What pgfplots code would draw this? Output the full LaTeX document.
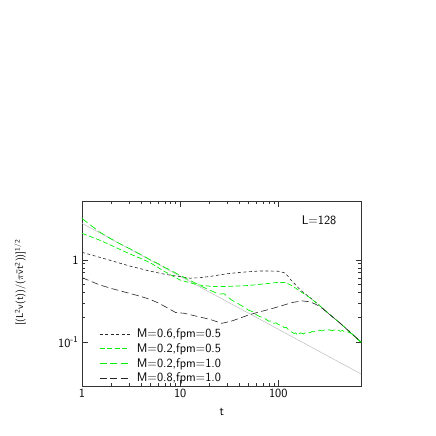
\documentclass[border=0pt]{standalone}
\usepackage{pgfplots}
\pgfplotsset{compat=1.18}
\renewcommand{\familydefault}{\sfdefault}
\definecolor{lgreen}{RGB}{0,240,0}
\begin{document}
\begin{tikzpicture}
\path[use as bounding box] (0,0) rectangle (436bp,436bp);
\begin{axis}[
  at={(82bp,50bp)}, anchor=south west,
  scale only axis, width=279.5bp, height=185bp,
  xmode=log, ymode=log,
  xmin=1, xmax=705, ymin=0.0294, ymax=5.21,
  xtick={1,10,100}, xticklabels={1,10,100},
  ytick={0.1,1}, yticklabels={10\textsuperscript{-1}\hspace{6bp},1},
  /pgf/number format/assume math mode=true,
  tick align=inside,
  major tick length=6bp, minor tick length=3.5bp,
  every tick/.style={black!80, line width=0.5bp},
  axis line style={black!80, line width=0.6bp},
  tick label style={font=\fontsize{12.5bp}{14bp}\selectfont},
  xlabel={t},
  xlabel style={font=\fontsize{12.5bp}{14bp}\selectfont, at={(axis description cs:0.5,-0.14)}, anchor=center},
  ylabel={[(L\textsuperscript{2}v(t))/($\pi$\={v}t\textsuperscript{2}))]\textsuperscript{1/2}},
  ylabel style={font=\normalsize, at={(axis description cs:-0.222,0.559)}, anchor=center},
  legend cell align=left,
  legend style={draw=none, fill=none, at={(axis description cs:0.05,0.332)}, anchor=north west,
    font=\fontsize{12.5bp}{14bp}\selectfont, row sep=0.5bp,
    /tikz/every odd column/.style={column sep=5bp}},
  legend image code/.code={\draw[#1] (0bp,0bp) -- (30bp,0bp);},
]
\addplot[gray!60, line width=0.4bp, forget plot] coordinates {(1,2.79) (700,0.0411)};
\addplot[black!85, line width=0.6bp, dash pattern=on 3bp off 2.5bp] coordinates {
(1,1.24) (1.5,1.08) (2,0.98) (3,0.85) (4,0.78) (5,0.73) (7,0.67) (10,0.627) (12.6,0.60) (16,0.61) (20,0.63) (30,0.68) (40,0.705) (50,0.72) (65,0.735) (80,0.735) (100,0.73) (115,0.70) (125,0.64) (133,0.58) (150,0.50) (168,0.43) (210,0.35) (259,0.284) (330,0.22) (428,0.17) (550,0.13) (700,0.1)};
\addlegendentry{M=0.6,fpm=0.5}
\addplot[lgreen, line width=0.7bp, dash pattern=on 5bp off 2.5bp] coordinates {
(1,2.11) (1.5,1.75) (2,1.5) (3,1.2) (4,1.04) (5,0.92) (7,0.72) (10,0.57) (15,0.50) (20,0.48) (24,0.474) (35,0.48) (50,0.49) (70,0.51) (100,0.535) (120,0.53) (143,0.474) (170,0.41) (212,0.345) (259,0.285) (330,0.221) (428,0.17) (550,0.13) (700,0.1)};
\addlegendentry{M=0.2,fpm=0.5}
\addplot[lgreen, line width=0.7bp, dash pattern=on 7bp off 3.5bp] coordinates {
(1,3.2) (1.2,2.7) (1.5,2.2) (2,1.79) (2.5,1.55) (3,1.39) (4,1.16) (5,1.00) (6,0.9) (7,0.81) (8,0.75) (10,0.65) (12,0.58) (14,0.53) (17,0.47) (20,0.43) (23,0.40) (26,0.385) (28,0.39) (30,0.365) (33,0.33) (36,0.31) (40,0.29) (45,0.265) (50,0.245) (55,0.235) (60,0.215) (65,0.205) (70,0.2) (75,0.19) (80,0.18) (85,0.182) (90,0.17) (95,0.172) (100,0.165) (105,0.16) (110,0.158) (115,0.15) (120,0.152) (125,0.145) (130,0.14) (135,0.135) (140,0.131) (145,0.128) (150,0.13) (155,0.125) (160,0.132) (165,0.128) (170,0.13) (180,0.126) (190,0.131) (200,0.133) (210,0.13) (220,0.135) (230,0.134) (240,0.138) (250,0.136) (265,0.14) (280,0.137) (295,0.141) (310,0.139) (330,0.142) (350,0.138) (370,0.141) (390,0.137) (410,0.14) (430,0.136) (450,0.139) (470,0.135) (500,0.136) (530,0.131) (560,0.127) (590,0.12) (620,0.113) (650,0.107) (700,0.1)};
\addlegendentry{M=0.2,fpm=1.0}
\addplot[black!85, line width=0.6bp, dash pattern=on 7bp off 3.5bp] coordinates {
(1,0.61) (1.5,0.5) (2,0.45) (3,0.395) (4,0.36) (5,0.33) (6,0.3) (7.5,0.26) (9,0.23) (11,0.225) (14,0.21) (20,0.19) (26.6,0.17) (33,0.18) (40,0.195) (50,0.215) (65,0.235) (80,0.25) (100,0.27) (140,0.305) (176,0.318) (210,0.31) (240,0.29) (268,0.27) (330,0.22) (428,0.17) (550,0.13) (700,0.1)};
\addlegendentry{M=0.8,fpm=1.0}
\node[font=\fontsize{12.5bp}{14bp}\selectfont] at (axis description cs:0.848,0.897) {L=128};
\node[font=\fontsize{12.5bp}{14bp}\selectfont] at (axis description cs:0.948,1.045) {(b)};
\end{axis}
\end{tikzpicture}
\end{document}
